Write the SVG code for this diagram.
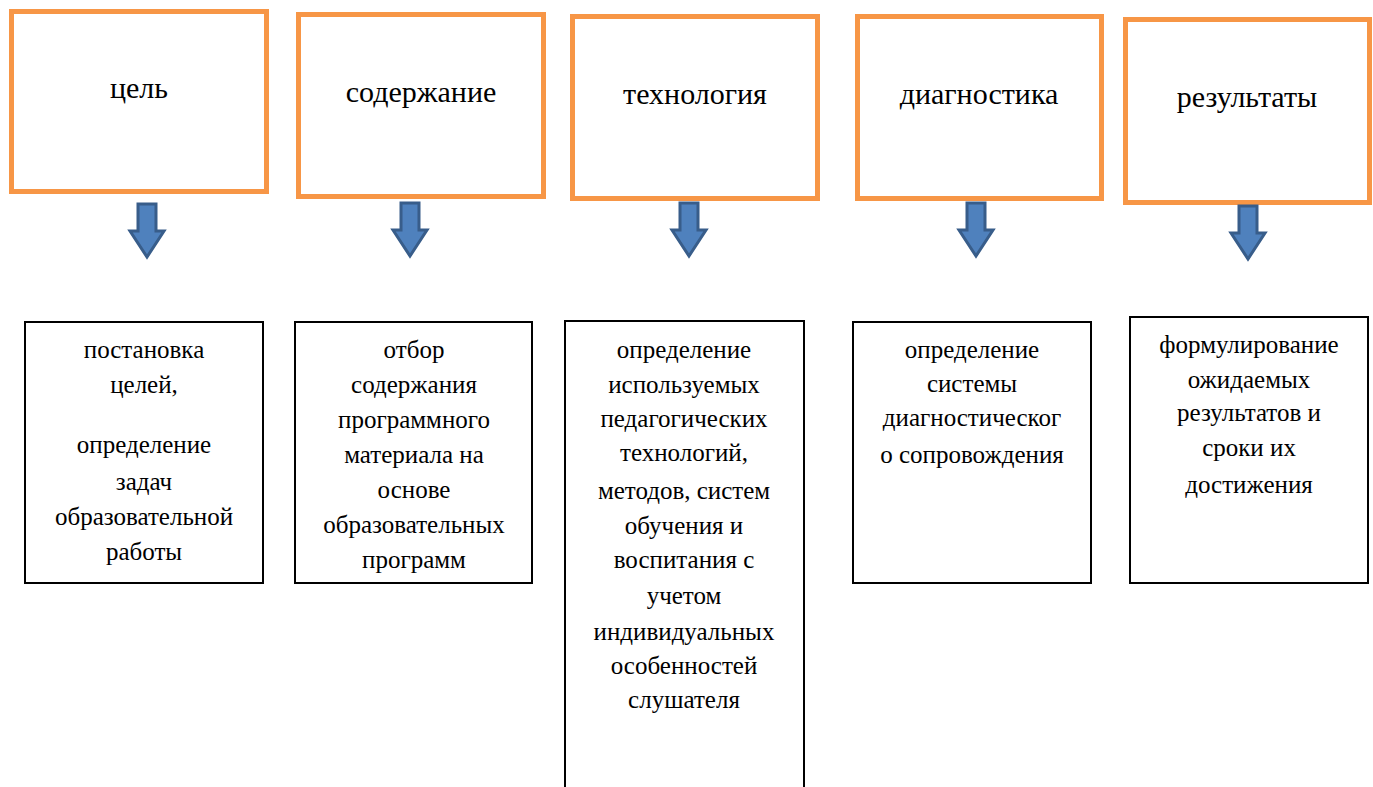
<svg xmlns="http://www.w3.org/2000/svg" width="1373" height="787" viewBox="0 0 1373 787">
<defs>
<style>
.top{fill:#fff;stroke:#F79646;stroke-width:5}
.bot{fill:#fff;stroke:#000;stroke-width:2}
.arr{fill:#4F81BD;stroke:#385D8A;stroke-width:3;stroke-linejoin:miter}
</style>
<path id="arrow" d="M-9,0 L9,0 L9,27 L17,27 L0,53 L-17,27 L-9,27 Z"/>
</defs>
<rect width="1373" height="787" fill="#fff"/>
<g font-family="Liberation Serif, DejaVu Serif, serif" font-size="30" text-anchor="middle" fill="#000">
<g id="n1"><rect class="top" x="11.5" y="11.5" width="255" height="180"/><text x="139" y="98">цель</text></g>
<g id="n2"><rect class="top" x="298.5" y="14.5" width="245" height="182"/><text x="421" y="102">содержание</text></g>
<g id="n3"><rect class="top" x="572.5" y="16.5" width="245" height="182"/><text x="695" y="104">технология</text></g>
<g id="n4"><rect class="top" x="857.5" y="16.5" width="244" height="182"/><text x="979" y="104">диагностика</text></g>
<g id="n5"><rect class="top" x="1125.5" y="19.5" width="244" height="183"/><text x="1247" y="107">результаты</text></g>
</g>
<g id="connectors">
<use href="#arrow" class="arr" transform="translate(147,204)"/>
<use href="#arrow" class="arr" transform="translate(410,203)"/>
<use href="#arrow" class="arr" transform="translate(689,203)"/>
<use href="#arrow" class="arr" transform="translate(976,203)"/>
<use href="#arrow" class="arr" transform="translate(1248,206)"/>
</g>
<g font-family="Liberation Serif, DejaVu Serif, serif" font-size="25" text-anchor="middle" fill="#000">
<g id="b1"><rect class="bot" x="25" y="322" width="238" height="261"/>
<text x="144" y="358">постановка</text>
<text x="144" y="393">целей,</text>
<text x="144" y="453">определение</text>
<text x="144" y="490">задач</text>
<text x="144" y="525">образовательной</text>
<text x="144" y="560">работы</text></g>
<g id="b2"><rect class="bot" x="295" y="322" width="237" height="261"/>
<text x="414" y="358">отбор</text>
<text x="414" y="393">содержания</text>
<text x="414" y="428">программного</text>
<text x="414" y="463">материала на</text>
<text x="414" y="498">основе</text>
<text x="414" y="533">образовательных</text>
<text x="414" y="568">программ</text></g>
<g id="b3"><rect class="bot" x="565" y="321" width="239" height="480"/>
<text x="684" y="358">определение</text>
<text x="684" y="393">используемых</text>
<text x="684" y="427">педагогических</text>
<text x="684" y="461">технологий,</text>
<text x="684" y="499">методов, систем</text>
<text x="684" y="534">обучения и</text>
<text x="684" y="568">воспитания с</text>
<text x="684" y="604">учетом</text>
<text x="684" y="640">индивидуальных</text>
<text x="684" y="674">особенностей</text>
<text x="684" y="708">слушателя</text></g>
<g id="b4"><rect class="bot" x="853" y="322" width="238" height="261"/>
<text x="972" y="358">определение</text>
<text x="972" y="392">системы</text>
<text x="972" y="426">диагностическог</text>
<text x="972" y="463">о сопровождения</text></g>
<g id="b5"><rect class="bot" x="1130" y="317" width="238" height="266"/>
<text x="1249" y="353">формулирование</text>
<text x="1249" y="388">ожидаемых</text>
<text x="1249" y="421">результатов и</text>
<text x="1249" y="456">сроки их</text>
<text x="1249" y="493">достижения</text></g>
</g>
</svg>
